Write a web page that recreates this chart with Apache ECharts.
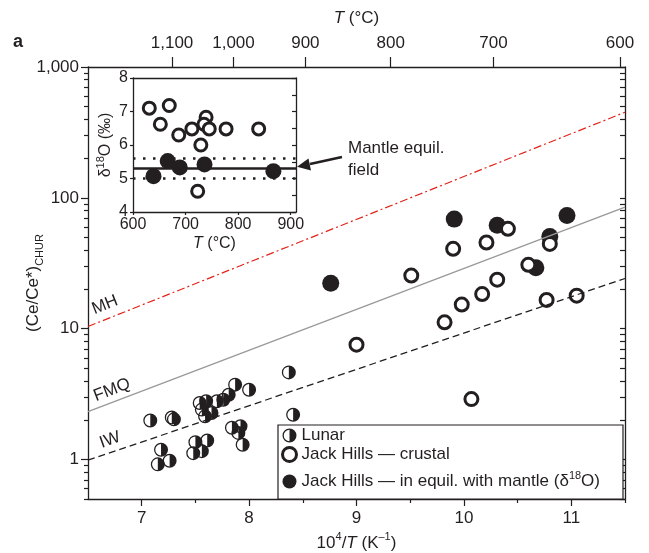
<!DOCTYPE html>
<html>
<head>
<meta charset="utf-8">
<script src="https://cdn.jsdelivr.net/npm/echarts@6/dist/echarts.min.js"></script>
<style>
html,body{margin:0;padding:0;background:#fff;}
#main{width:649px;height:553px;}
</style>
</head>
<body>
<div id="main"></div>
<script>
// 主图: 10^4/T 对 (Ce/Ce*)CHUR
var lunar = [
    [7.08,1.99],[7.28,2.10],[7.30,2.03],[7.18,1.19],[7.15,0.92],[7.26,0.98],
    [7.50,1.36],[7.48,1.12],[7.56,1.16],[7.61,1.40],[7.54,2.71],[7.56,2.41],
    [7.60,2.79],[7.59,2.14],[7.65,2.27],[7.70,2.79],[7.76,2.87],[7.81,3.13],
    [7.87,3.74],[8.00,3.42],[7.84,1.75],[7.92,1.80],[7.90,1.60],[7.94,1.30],
    [8.37,4.64],[8.41,2.20]
];
var crustal = [
    [9.00,7.55],[9.51,25.5],[9.82,11.2],[9.90,40.8],[9.98,15.3],[10.07,2.9],
    [10.17,18.4],[10.21,45.6],[10.31,23.7],[10.41,58.0],[10.60,30.8],[10.77,16.6],
    [10.80,44.5],[11.05,17.9]
];
var mantle = [
    [8.76,22.3],[9.91,68.8],[10.31,61.8],[10.67,29.2],[10.80,50.7],[10.96,73.3]
];
// 缓冲线 MH / FMQ / IW
var mhLine = [[6.5,10.4],[11.5,451]];
var fmqLine = [[6.5,2.33],[11.5,85]];
var iwLine = [[6.5,0.99],[11.5,24.2]];

// 小图: T 对 δ18O
var insetCrustal = [
    [631,7.10],[669,7.18],[652,6.62],[687,6.30],[712,6.48],[739,6.83],
    [735,6.62],[745,6.48],[729,6.00],[777,6.48],[839,6.48],[723,4.62]
];
var insetMantle = [[639,5.07],[666,5.52],[689,5.33],[736,5.42],[867,5.22]];
var mantleMean = 5.3;
var mantleLow = 5.0;
var mantleHigh = 5.6;

// 刻度
var xTicks = [7, 8, 9, 10, 11];
var xMinorTicks = [7.5, 8.5, 9.5, 10.5, 11.5];
var tempTicks = [1100, 1000, 900, 800, 700, 600];
var yTicks = [1, 10, 100, 1000];
var insetXTicks = [600, 700, 800, 900];
var insetYMinor = [4, 4.5, 5, 5.5, 6, 6.5, 7, 7.5, 8];

var FONT = "'Liberation Sans', Arial, Helvetica, sans-serif";
var INK = '#231f20';

var yMinorTicks = [];
[0.1, 1, 10, 100].forEach(function (d) {
    for (var k = 2; k <= 9; k++) {
        var v = +(d * k).toPrecision(3);
        if (v >= 0.5 && v < 1000) yMinorTicks.push(v);
    }
});
var yAllTicks = yTicks.concat(yMinorTicks);
var tempPos = tempTicks.map(function (t) { return 1e4 / (t + 273.15); });

function comma(n) {
    var s = String(n);
    return s.length > 3 ? s.slice(0, s.length - 3) + ',' + s.slice(s.length - 3) : s;
}

var lunarSymbol = 'path://M50,0A50,50,0,1,1,50,100A50,50,0,1,1,50,0ZM50,9A41,41,0,0,0,50,91Z';

var axisLine = {show: true, lineStyle: {color: INK, width: 1.3}};
var tickStyle = {color: INK, width: 1.2};
var labelStyle = {color: INK, fontSize: 17, fontFamily: FONT};

var myChart = echarts.init(document.getElementById('main'), null, {renderer: 'canvas'});
var option = {
    animation: false,
    backgroundColor: '#fff',
    textStyle: {fontFamily: FONT, color: INK},
    grid: [
        {left: 88, top: 67, width: 537, height: 432, outerBoundsMode: 'none', containLabel: false},
        {left: 133, top: 78, width: 163, height: 134, outerBoundsMode: 'none', containLabel: false}
    ],
    xAxis: [
        {
            gridIndex: 0, type: 'value', position: 'bottom', min: 6.5, max: 11.5,
            axisLine: axisLine, splitLine: {show: false},
            axisTick: {customValues: xTicks, length: 7, lineStyle: tickStyle},
            axisLabel: Object.assign({customValues: xTicks, margin: 11}, labelStyle),
            name: '10{sup|4}/{it|T} (K{sup|\u20131})', nameLocation: 'middle', nameGap: 28,
            nameTextStyle: {fontSize: 17, color: INK, lineHeight: 22,
                rich: {sup: {fontSize: 11, verticalAlign: 'top', lineHeight: 12}, it: {fontStyle: 'italic', fontSize: 17}}}
        },
        {
            gridIndex: 0, type: 'value', position: 'top', min: 6.5, max: 11.5,
            axisLine: axisLine, splitLine: {show: false},
            axisTick: {customValues: tempPos, length: 10, lineStyle: tickStyle},
            axisLabel: Object.assign({customValues: tempPos, margin: 15,
                formatter: function (v) { return comma(Math.round(1e4 / v - 273.15)); }}, labelStyle),
            name: '{it|T} (\u00b0C)', nameLocation: 'middle', nameGap: 40,
            nameTextStyle: {fontSize: 17, color: INK, rich: {it: {fontStyle: 'italic', fontSize: 17}}}
        },
        {
            gridIndex: 0, type: 'value', position: 'bottom', min: 6.5, max: 11.5,
            axisLine: {show: false}, splitLine: {show: false}, axisLabel: {show: false},
            axisTick: {customValues: xMinorTicks, length: 4, lineStyle: tickStyle}
        },
        {
            gridIndex: 1, type: 'value', position: 'bottom', min: 600, max: 910,
            axisLine: axisLine, splitLine: {show: false},
            axisTick: {customValues: insetXTicks, length: 3, lineStyle: tickStyle},
            axisLabel: {customValues: insetXTicks, margin: 5, color: INK, fontSize: 16, fontFamily: FONT},
            name: '{it|T} (\u00b0C)', nameLocation: 'middle', nameGap: 24,
            nameTextStyle: {fontSize: 16, color: INK, rich: {it: {fontStyle: 'italic', fontSize: 16}}}
        },
        {
            gridIndex: 1, type: 'value', position: 'top', min: 600, max: 910,
            axisLine: axisLine, splitLine: {show: false}, axisLabel: {show: false}, axisTick: {show: false}
        }
    ],
    yAxis: [
        {
            gridIndex: 0, type: 'log', logBase: 10, position: 'left', min: 0.5, max: 1000,
            axisLine: axisLine, splitLine: {show: false},
            axisTick: {customValues: yTicks, length: 7, lineStyle: tickStyle},
            axisLabel: Object.assign({customValues: yTicks, margin: 9,
                formatter: function (v) { return comma(Math.round(v)); }}, labelStyle),
            name: '(Ce/Ce*){sub|CHUR}', nameLocation: 'middle', nameRotate: 90, nameGap: 43,
            nameMoveOverlap: false,
            nameTextStyle: {fontSize: 17, color: INK, lineHeight: 24,
                rich: {sub: {fontSize: 11, verticalAlign: 'bottom', lineHeight: 14}}}
        },
        {
            gridIndex: 0, type: 'log', logBase: 10, position: 'left', min: 0.5, max: 1000,
            axisLine: {show: false}, splitLine: {show: false}, axisLabel: {show: false},
            axisTick: {customValues: yMinorTicks, length: 4, lineStyle: tickStyle}
        },
        {
            gridIndex: 0, type: 'log', logBase: 10, position: 'right', min: 0.5, max: 1000,
            axisLine: axisLine, splitLine: {show: false}, axisLabel: {show: false},
            axisTick: {customValues: yAllTicks, inside: true, length: 5, lineStyle: tickStyle}
        },
        {
            gridIndex: 1, type: 'value', position: 'left', min: 4, max: 8, interval: 1,
            axisLine: axisLine, splitLine: {show: false},
            axisTick: {length: 3, lineStyle: tickStyle},
            axisLabel: {margin: 5, color: INK, fontSize: 16, fontFamily: FONT},
            name: '\u03b4{sup|18}O (\u2030)', nameLocation: 'middle', nameRotate: 90, nameGap: 17,
            nameTextStyle: {fontSize: 16, color: INK, lineHeight: 20,
                rich: {sup: {fontSize: 11, verticalAlign: 'top', lineHeight: 12}}}
        },
        {
            gridIndex: 1, type: 'value', position: 'right', min: 4, max: 8,
            axisLine: axisLine, splitLine: {show: false}, axisLabel: {show: false},
            axisTick: {customValues: insetYMinor, inside: true, length: 4, lineStyle: tickStyle}
        }
    ],
    legend: {
        orient: 'vertical', left: 278, top: 425,
        padding: [1, 23, 0, 3], itemGap: 0, itemWidth: 14, itemHeight: 14,
        borderColor: INK, borderWidth: 1.2, backgroundColor: '#fff',
        selectedMode: false,
        textStyle: {fontSize: 17, color: INK, lineHeight: 19, fontFamily: FONT,
            rich: {m: {fontSize: 17, lineHeight: 35}, s: {fontSize: 11, verticalAlign: 'top', padding: [6, 0, 0, 0]}}},
        data: [
            {name: 'Lunar'},
            {name: 'crustal', itemStyle: {color: '#fff', borderColor: INK, borderWidth: 3}},
            {name: 'mantle'}
        ],
        formatter: function (name) {
            if (name === 'Lunar') return 'Lunar';
            if (name === 'crustal') return 'Jack Hills \u2014 crustal';
            return '{m|Jack Hills \u2014 in equil. with mantle (\u03b4}{s|18}{m|O)}';
        }
    },
    graphic: [
        {type: 'text', left: 13, top: 33, style: {text: 'a', fontSize: 18, fontWeight: 'bold', fill: INK, fontFamily: FONT}},
        {type: 'text', x: 105, y: 305, rotation: 0.38, style: {text: 'MH', fontSize: 17, fill: INK, fontFamily: FONT, align: 'center', verticalAlign: 'middle'}},
        {type: 'text', x: 112, y: 390, rotation: 0.37, style: {text: 'FMQ', fontSize: 17, fill: INK, fontFamily: FONT, align: 'center', verticalAlign: 'middle'}},
        {type: 'text', x: 110, y: 440, rotation: 0.34, style: {text: 'IW', fontSize: 17, fill: INK, fontFamily: FONT, align: 'center', verticalAlign: 'middle'}},
        {type: 'text', x: 348, y: 137, style: {text: 'Mantle equil.\nfield', fontSize: 17, lineHeight: 22, fill: INK, fontFamily: FONT}},
        {type: 'line', shape: {x1: 342, y1: 157, x2: 310, y2: 164}, style: {stroke: INK, lineWidth: 2.6}},
        {type: 'polygon', shape: {points: [[297, 166.7], [311, 170.5], [308.5, 158.5]]}, style: {fill: INK}}
    ],
    series: [
        {type: 'line', name: 'MH', data: mhLine, xAxisIndex: 0, yAxisIndex: 0, showSymbol: false, silent: true,
            lineStyle: {color: '#e2231a', width: 1.2, type: [8, 3, 2, 3]}},
        {type: 'line', name: 'FMQ', data: fmqLine, xAxisIndex: 0, yAxisIndex: 0, showSymbol: false, silent: true,
            lineStyle: {color: '#999999', width: 1.3}},
        {type: 'line', name: 'IW', data: iwLine, xAxisIndex: 0, yAxisIndex: 0, showSymbol: false, silent: true,
            lineStyle: {color: INK, width: 1.3, type: [7, 4]}},
        {type: 'scatter', name: 'Lunar', data: lunar, xAxisIndex: 0, yAxisIndex: 0,
            symbol: lunarSymbol, symbolSize: 14, itemStyle: {color: INK, opacity: 1}},
        {type: 'scatter', name: 'mantle', data: mantle, xAxisIndex: 0, yAxisIndex: 0,
            symbol: 'circle', symbolSize: 17, itemStyle: {color: INK, opacity: 1}},
        {type: 'scatter', name: 'crustal', data: crustal, xAxisIndex: 0, yAxisIndex: 0,
            symbol: 'circle', symbolSize: 13, itemStyle: {color: '#fff', borderColor: INK, borderWidth: 3, opacity: 1}},
        // 小图
        {type: 'line', data: [[600, mantleMean], [910, mantleMean]], xAxisIndex: 3, yAxisIndex: 3,
            showSymbol: false, silent: true, lineStyle: {color: INK, width: 2.5}},
        {type: 'line', data: [[600, mantleHigh], [910, mantleHigh]], xAxisIndex: 3, yAxisIndex: 3,
            showSymbol: false, silent: true, lineStyle: {color: INK, width: 2.5, type: [2.5, 7.5]}},
        {type: 'line', data: [[600, mantleLow], [910, mantleLow]], xAxisIndex: 3, yAxisIndex: 3,
            showSymbol: false, silent: true, lineStyle: {color: INK, width: 2.5, type: [2.5, 7.5]}},
        {type: 'scatter', name: 'mantle', data: insetMantle, xAxisIndex: 3, yAxisIndex: 3,
            symbol: 'circle', symbolSize: 16, itemStyle: {color: INK, opacity: 1}},
        {type: 'scatter', name: 'crustal', data: insetCrustal, xAxisIndex: 3, yAxisIndex: 3,
            symbol: 'circle', symbolSize: 12, itemStyle: {color: '#fff', borderColor: INK, borderWidth: 3, opacity: 1}}
    ]
};
myChart.setOption(option);
</script>
</body>
</html>
